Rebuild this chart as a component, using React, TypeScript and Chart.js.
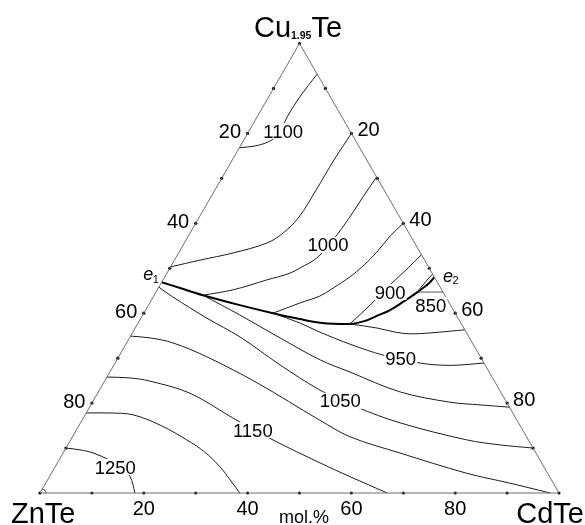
import React, { useEffect, useRef } from "react";
import { Chart, registerables } from "chart.js";

Chart.register(...registerables);

// All compositions are [CdTe mol.%, Cu1.95Te mol.%]; ZnTe is the remainder.
const outline = [[0, 0], [100, 0], [0, 100], [0, 0]];
const edgeTicks = [10, 20, 30, 40, 50, 60, 70, 80, 90];
const tickLabelValues = [20, 40, 60, 80];
const tickLabels = ["20", "40", "60", "80"];
const axisUnit = "mol.%";

const iso1100 = [[0, 76.8], [2.8, 77.2], [4.9, 78.1], [6.0, 79.6], [6.0, 81.6], [5.8, 83.6], [6.0, 88.1], [6.8, 93.2]];
const isoUpperB = [[20, 80], [19.6, 74.1], [19.5, 67.4], [19.2, 61.4], [17.9, 57.8], [15.9, 55.6], [10.5, 53.4], [4.9, 51.8], [0, 50.3]];
const iso1000Upper = [[29.7, 70.3], [29.3, 65.9], [29.0, 61.4], [28.3, 56.3], [27.2, 52.3], [25.1, 50.1], [23.7, 48.9], [20.0, 47.4], [14.6, 45.2], [9.4, 44.0]];
const iso1000Lower = [[9.4, 44.0], [18.7, 39.6], [29.0, 34.5], [39.2, 29.6], [46.3, 26.9], [58.1, 22.5], [68.9, 20.2], [75.0, 19.6], [80.9, 19.1]];
const isoDUpper = [[40, 60], [38.9, 57.2], [38.1, 53.6], [37.0, 50.5], [35.7, 48.1], [33.7, 45.6], [32.0, 43.8], [29.0, 42.3], [24.9, 40.0]];
const iso950 = [[24.9, 40.0], [31.2, 37.8], [36.0, 35.8], [43.2, 33.1], [50.7, 30.7], [58.8, 28.9], [64.8, 28.4], [71.1, 28.9]];
const iso900Upper = [[40.9, 37.6], [42.7, 41.8], [44.3, 46.3], [45.9, 50.1], [47.0, 53.0]];
const iso900Lower = [[40.9, 37.6], [46.6, 36.7], [50.5, 35.8], [53.6, 35.4], [57.3, 35.6], [61.0, 36.0], [63.7, 36.3]];
const iso850Flat = [[50.5, 44.7], [55.3, 44.7]];
const iso850Arc = [[50.4, 45.2], [50.7, 46.5], [51.0, 47.8], [51.3, 48.7]];
const valley = [[0, 46.9], [4.2, 45.6], [9.4, 44.0], [17.6, 41.8], [24.9, 40.0], [30.7, 38.7], [35.0, 37.9], [40.9, 37.6], [43.5, 38.3], [45.2, 39.4], [47.1, 40.7], [48.7, 42.5], [50.1, 44.3], [51.0, 45.6], [51.7, 46.9], [52.0, 48.0]];
const iso1050 = [[0, 45.8], [3.8, 43.6], [12.7, 38.9], [21.2, 34.7], [32.0, 28.5], [42.5, 22.9], [51.5, 19.1], [61.6, 15.6], [76.4, 11.8], [83.3, 10.7], [90.0, 10.0]];
const iso1100Low = [[0, 34.9], [4.0, 34.5], [8.9, 33.4], [17.0, 30.3], [29.6, 24.5], [45.8, 16.2], [53.5, 12.5], [64.9, 8.9], [80.0, 4.4], [89.4, 2.2], [98.3, 0]];
const iso1150 = [[0, 25.8], [4.5, 25.6], [8.7, 24.9], [17.8, 22.2], [28.8, 16.7], [39.0, 11.8], [50.6, 6.7], [58.0, 3.6], [66.9, 0]];
const iso1200 = [[0, 17.8], [4.6, 17.8], [9.2, 17.4], [15.6, 15.1], [22.4, 11.8], [27.2, 9.1], [31.8, 5.8], [35.2, 2.9], [38.5, 0]];
const iso1250 = [[0, 10.0], [2.9, 9.6], [5.8, 8.9], [9.8, 7.3], [12.9, 5.8], [15.6, 3.6], [18.3, 0]];
const cornerArc = [[0, 0.8], [0.6, 0.6], [1.25, 0]];

const contourLabels = ["1100", "1000", "900", "850", "950", "1050", "1150", "1250"];
const contourLabelAt = [[6.6, 80.5], [27.9, 55.2], [45.1, 44.7], [54.4, 41.8], [54.5, 30.0], [47.6, 20.5], [34.0, 14.0], [11.6, 5.8]];

const eutectics = [[0, 46.9], [52.0, 48.0]];

const S = Math.sqrt(3) / 2;
const toXY = (p: number[]) => ({ x: p[0] + p[1] / 2, y: p[1] * S });
const FONT = '"Liberation Sans", Arial, sans-serif';

export default function App() {
  const ref = useRef<HTMLCanvasElement>(null);

  useEffect(() => {
    if (!ref.current) return;
    const line = (pts: number[][], width = 1, color = "#1c1c1c") => ({
      data: pts.map(toXY),
      showLine: true,
      borderColor: color,
      borderWidth: width,
      pointRadius: 0,
      tension: 0.35,
      fill: false,
      clip: false as any,
    });

    const dots: number[][] = [[0, 0], [100, 0], [0, 100]];
    edgeTicks.forEach((t) => {
      dots.push([0, t]);
      dots.push([t, 100 - t]);
      dots.push([t, 0]);
    });

    const datasets: any[] = [
      { ...line(outline, 1, "#6e6e6e"), tension: 0 },
      line(iso1100),
      line(isoUpperB),
      line(iso1000Upper),
      line(iso1000Lower),
      line(isoDUpper),
      line(iso950),
      line(iso900Upper),
      line(iso900Lower),
      { ...line(iso850Flat, 1, "#555"), tension: 0 },
      line(iso850Arc),
      line(iso1050),
      line(iso1100Low),
      line(iso1150),
      line(iso1200),
      line(iso1250),
      line(cornerArc),
      line(valley, 2, "#000"),
      {
        data: dots.map(toXY),
        showLine: false,
        pointRadius: 1.6,
        pointBackgroundColor: "#000",
        pointBorderWidth: 0,
        clip: false,
      },
    ];

    const textPlugin = {
      id: "ternaryText",
      afterDatasetsDraw(chart: any) {
        const ctx = chart.ctx as CanvasRenderingContext2D;
        const xs = chart.scales.x;
        const ys = chart.scales.y;
        const P = (p: number[]) => {
          const q = toXY(p);
          return [xs.getPixelForValue(q.x), ys.getPixelForValue(q.y)];
        };
        ctx.save();
        ctx.fillStyle = "#000";
        ctx.textBaseline = "alphabetic";

        // contour labels on white boxes
        ctx.font = `18.5px ${FONT}`;
        ctx.textAlign = "center";
        contourLabels.forEach((txt, i) => {
          const [px, py] = P(contourLabelAt[i]);
          const w = ctx.measureText(txt).width;
          ctx.fillStyle = "#fff";
          ctx.fillRect(px - w / 2 - 1, py - 8, w + 2, 16);
          ctx.fillStyle = "#000";
          ctx.fillText(txt, px, py + 6.6);
        });

        // tick labels
        ctx.font = `20px ${FONT}`;
        tickLabelValues.forEach((v, i) => {
          const [bx, by] = P([v, 0]);
          ctx.textAlign = "center";
          ctx.fillText(tickLabels[i], bx, by + 22);
          const [lx, ly] = P([0, 100 - v]);
          ctx.textAlign = "right";
          ctx.fillText(tickLabels[i], lx - 6.5, ly + 5);
          const [rx, ry] = P([v, 100 - v]);
          ctx.textAlign = "left";
          ctx.fillText(tickLabels[i], rx + 6, ry + 2.5);
        });

        // axis unit
        ctx.font = `18px ${FONT}`;
        ctx.textAlign = "center";
        const [ux, uy] = P([50, 0]);
        ctx.fillText(axisUnit, ux + 4.5, uy + 30);

        // vertex names
        ctx.font = `29px ${FONT}`;
        const [zx, zy] = P([0, 0]);
        ctx.textAlign = "left";
        ctx.fillText("ZnTe", zx - 29, zy + 29.5);
        const [cx, cy] = P([100, 0]);
        ctx.textAlign = "right";
        ctx.fillText("CdTe", cx + 25, cy + 29.5);

        const [tx, ty] = P([0, 100]);
        ctx.textAlign = "left";
        ctx.font = `29px ${FONT}`;
        const wCu = ctx.measureText("Cu").width;
        const wTe = ctx.measureText("Te").width;
        ctx.font = `bold 10.5px ${FONT}`;
        const wSub = ctx.measureText("1.95").width;
        const total = wCu + wSub + wTe;
        let x0 = tx - total / 2 - 1.5;
        const base = ty - 6.5;
        ctx.font = `29px ${FONT}`;
        ctx.fillText("Cu", x0, base);
        x0 += wCu;
        ctx.font = `bold 10.5px ${FONT}`;
        ctx.fillText("1.95", x0, base + 2);
        x0 += wSub;
        ctx.font = `29px ${FONT}`;
        ctx.fillText("Te", x0, base);

        // eutectic points
        const [e1x, e1y] = P(eutectics[0]);
        ctx.font = `italic 18px ${FONT}`;
        ctx.fillText("e", e1x - 18.5, e1y - 2);
        ctx.font = `11px ${FONT}`;
        ctx.fillText("1", e1x - 9, e1y + 1);
        const [e2x, e2y] = P(eutectics[1]);
        ctx.font = `italic 18px ${FONT}`;
        ctx.fillText("e", e2x + 8.5, e2y + 5);
        ctx.font = `11px ${FONT}`;
        ctx.fillText("2", e2x + 18, e2y + 7);

        ctx.restore();
      },
    };

    const chart = new Chart(ref.current, {
      type: "scatter",
      data: { datasets },
      options: {
        responsive: false,
        animation: false,
        devicePixelRatio: 1,
        layout: { padding: { left: 40, right: 26, top: 43.5, bottom: 32 } },
        scales: {
          x: { type: "linear", min: 0, max: 100, display: false },
          y: { type: "linear", min: 0, max: 100 * S, display: false },
        },
        plugins: { legend: { display: false }, tooltip: { enabled: false } },
      },
      plugins: [textPlugin],
    } as any);
    return () => chart.destroy();
  }, []);

  return (
    <div style={{ position: "absolute", left: 0, top: 0, width: 585, height: 525, background: "#fff" }}>
      <canvas ref={ref} width={585} height={525} style={{ width: 585, height: 525, display: "block" }} />
    </div>
  );
}
